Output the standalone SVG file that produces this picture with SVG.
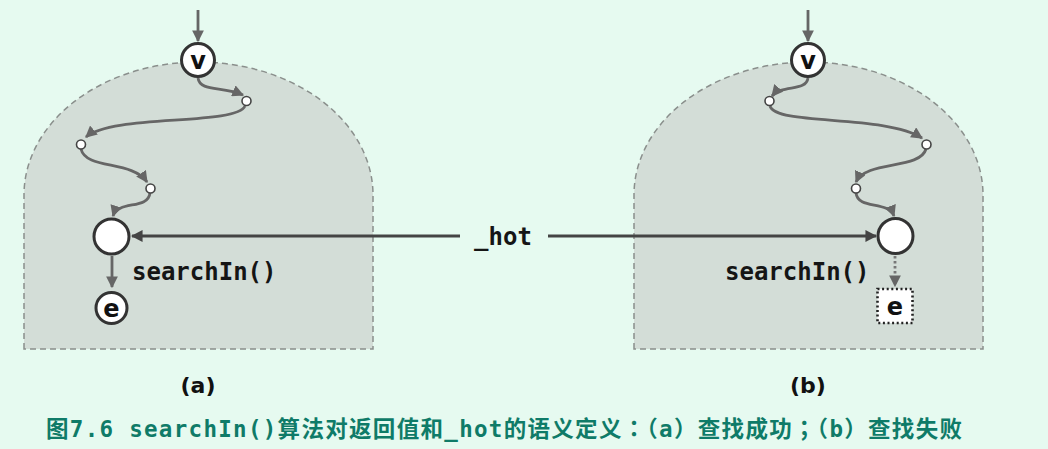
<svg xmlns="http://www.w3.org/2000/svg" width="1048" height="449" viewBox="0 0 1048 449">
<defs>
<marker id="ah" viewBox="0 0 10 10" refX="9" refY="5" markerWidth="4.2" markerHeight="4.2" orient="auto" markerUnits="strokeWidth">
<path d="M0,0 L10,5 L0,10 Z" fill="#666"/>
</marker>
<marker id="ahd" viewBox="0 0 10 10" refX="9" refY="5" markerWidth="4.2" markerHeight="4.2" orient="auto" markerUnits="strokeWidth">
<path d="M0,0 L10,5 L0,10 Z" fill="#444"/>
</marker>
</defs>
<style>
.region{fill:#d3ddd7;stroke:#8a8f8c;stroke-width:1.5;stroke-dasharray:6 4}
.node{fill:#fff;stroke:#333;stroke-width:3}
.dot{fill:#fff;stroke:#444;stroke-width:1.6}
.curve{fill:none;stroke:#666;stroke-width:2.8;marker-end:url(#ah)}
.hot{fill:none;stroke:#444;stroke-width:2.8;marker-end:url(#ahd)}
.lbl{font-family:"DejaVu Sans",sans-serif;font-weight:bold;font-size:24px;fill:#111;text-anchor:middle}
.pl{font-family:"DejaVu Sans",sans-serif;font-weight:bold;font-size:22px;fill:#111;text-anchor:middle}
.code{font-family:"DejaVu Sans Mono","Liberation Mono",monospace;font-weight:bold;font-size:24px;fill:#151515}
.cap{font-family:"DejaVu Sans Mono","Noto Sans CJK SC",monospace;font-weight:bold;font-size:22.5px;fill:#0f7b68}
.fw{font-family:"Noto Sans CJK SC",sans-serif}
.fc{font-family:"Noto Sans CJK TC",sans-serif}
</style>
<rect width="1048" height="449" fill="#e6faf0"/>
<path class="region" d="M24,349 L24,195 A174.5,133 0 0 1 373,195 L373,349 Z"/>
<path class="region" d="M634,349 L634,195 A174.5,133 0 0 1 983,195 L983,349 Z"/>
<g id="connectors">
<path class="curve" d="M198,10 L198,41"/>
<path class="curve" d="M198,78 C200,92 222,86 243,95"/>
<path class="curve" d="M245,106 C236,126 112,114 86,137"/>
<path class="curve" d="M81,149 C86,170 132,160 147,182"/>
<path class="curve" d="M150,193 C148,210 118,200 113,216"/>
<path class="curve" d="M112,256 L112,287"/>
<path class="curve" d="M808,10 L808,41"/>
<path class="curve" d="M808,78 C806,92 782,84 772,96"/>
<path class="curve" d="M770,106 C776,126 884,114 922,138"/>
<path class="curve" d="M926,149 C920,170 866,160 856,182"/>
<path class="curve" d="M856,193 C858,210 888,200 894,216"/>
<path d="M895,256 L895,286" fill="none" stroke="#777" stroke-width="2.8" stroke-dasharray="2.5 2.5" marker-end="url(#ah)"/>
<path class="hot" d="M460,236 L132,236"/>
<path class="hot" d="M548,236 L876,236"/>
</g>
<g id="a-v"><circle class="node" cx="198" cy="60" r="16.5"/><text class="lbl" x="198" y="68.5">v</text></g>
<g id="a-d1"><circle class="dot" cx="246.5" cy="101" r="4.5"/></g>
<g id="a-d2"><circle class="dot" cx="81" cy="144.5" r="4.5"/></g>
<g id="a-d3"><circle class="dot" cx="150.5" cy="188.5" r="4.5"/></g>
<g id="a-hot"><circle class="node" cx="111.5" cy="236.5" r="17.5"/></g>
<g id="a-e"><circle class="node" cx="111.5" cy="308" r="15.5"/><text class="lbl" x="111.5" y="316.5">e</text></g>
<text class="code" x="132" y="280">searchIn()</text>
<g id="b-v"><circle class="node" cx="808" cy="60" r="16.5"/><text class="lbl" x="808" y="68.5">v</text></g>
<g id="b-d1"><circle class="dot" cx="769.5" cy="101" r="4.5"/></g>
<g id="b-d2"><circle class="dot" cx="926.5" cy="144.5" r="4.5"/></g>
<g id="b-d3"><circle class="dot" cx="856" cy="188.5" r="4.5"/></g>
<g id="b-hot"><circle class="node" cx="895.5" cy="236" r="17.5"/></g>
<g id="b-e"><rect x="877.5" y="289" width="35" height="34" fill="#fff" stroke="#222" stroke-width="2.6" stroke-dasharray="2 2.6"/><text class="lbl" x="895" y="314.5">e</text></g>
<text class="code" x="725" y="280">searchIn()</text>
<g id="hot-label"><text class="code" x="503" y="245" text-anchor="middle">_hot</text></g>
<text class="pl" x="198" y="393">(a)</text>
<text class="pl" x="808" y="393">(b)</text>
<text class="cap" x="46" y="437" textLength="916" lengthAdjust="spacing">图7.6 searchIn()算法对返回值和_hot的语义定义<tspan class="fc">：</tspan><tspan class="fw">（</tspan>a<tspan class="fw">）</tspan>查找成功<tspan class="fc">；</tspan><tspan class="fw">（</tspan>b<tspan class="fw">）</tspan>查找失败</text>
</svg>
